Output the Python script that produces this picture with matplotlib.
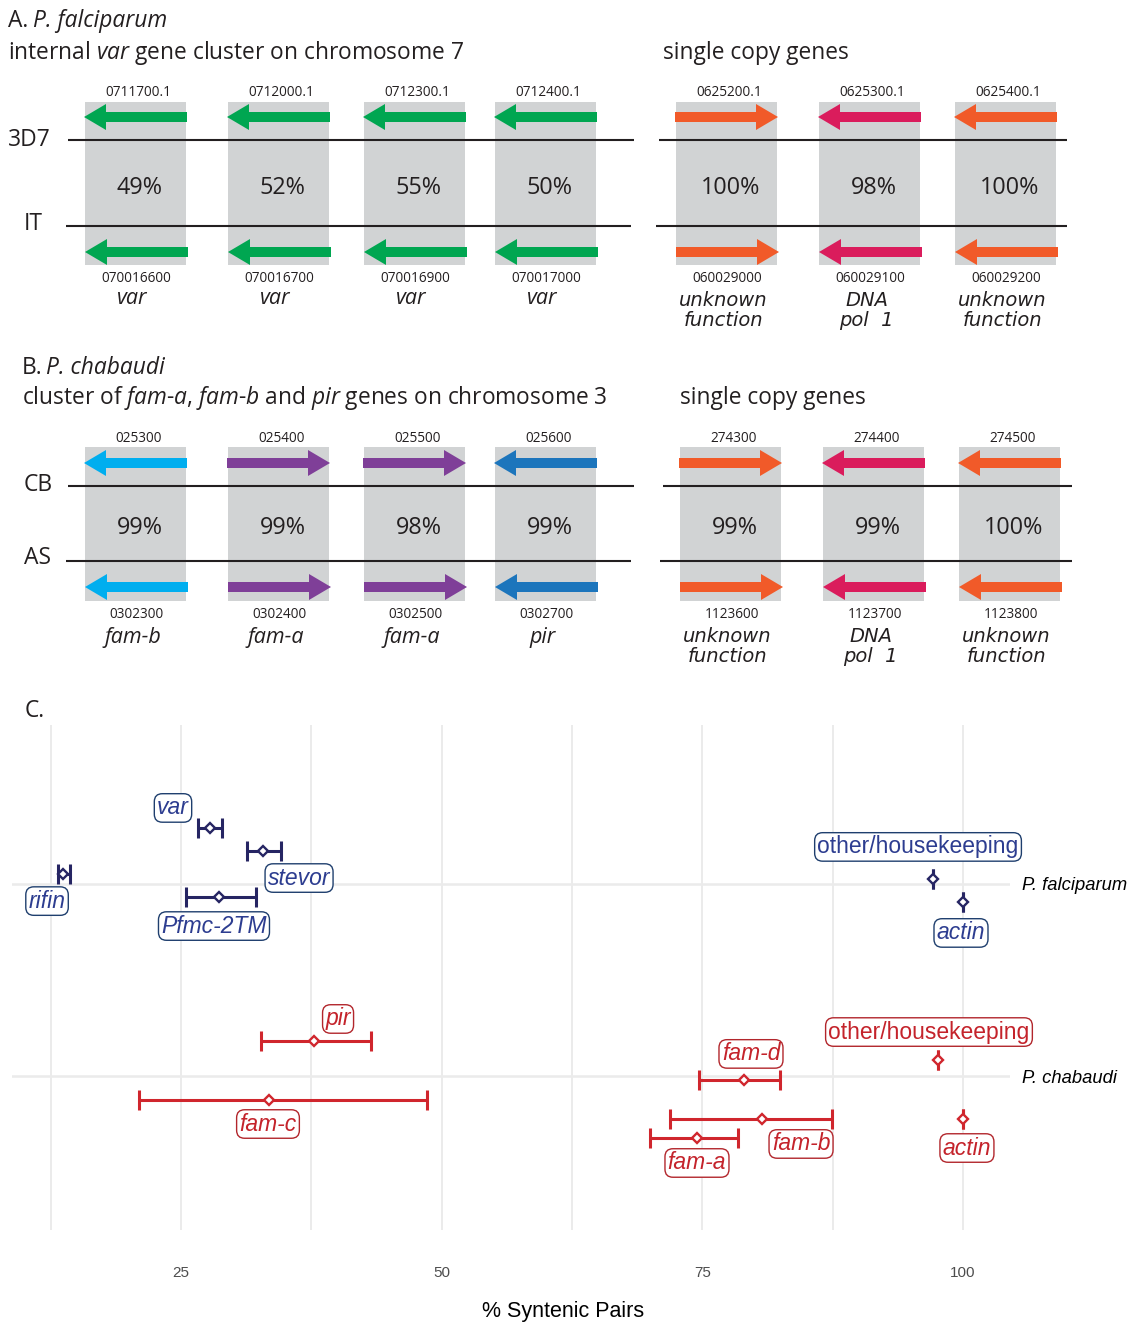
import matplotlib
matplotlib.use("Agg")
import matplotlib.pyplot as plt
from matplotlib.patches import Polygon, Rectangle

plt.rcParams['mathtext.fontset'] = 'custom'
plt.rcParams['mathtext.rm'] = 'Open Sans'
plt.rcParams['mathtext.it'] = 'Open Sans:italic'
plt.rcParams['mathtext.bf'] = 'Open Sans:bold'

# ---------------- data: panel A ----------------
A_var_ids_top = ["0711700.1", "0712000.1", "0712300.1", "0712400.1"]
A_var_ids_bot = ["070016600", "070016700", "070016900", "070017000"]
A_var_pct = [49, 52, 55, 50]
A_var_names = ["var", "var", "var", "var"]
A_var_dir = [-1, -1, -1, -1]
A_var_col = ["green", "green", "green", "green"]

A_sc_ids_top = ["0625200.1", "0625300.1", "0625400.1"]
A_sc_ids_bot = ["060029000", "060029100", "060029200"]
A_sc_pct = [100, 98, 100]
A_sc_names = ["unknown\nfunction", "DNA\npol  1", "unknown\nfunction"]
A_sc_dir = [1, -1, -1]
A_sc_col = ["orange", "crimson", "orange"]

# ---------------- data: panel B ----------------
B_fam_ids_top = ["025300", "025400", "025500", "025600"]
B_fam_ids_bot = ["0302300", "0302400", "0302500", "0302700"]
B_fam_pct = [99, 99, 98, 99]
B_fam_names = ["fam-b", "fam-a", "fam-a", "pir"]
B_fam_dir = [-1, 1, 1, -1]
B_fam_col = ["cyan", "purple", "purple", "blue"]

B_sc_ids_top = ["274300", "274400", "274500"]
B_sc_ids_bot = ["1123600", "1123700", "1123800"]
B_sc_pct = [99, 99, 100]
B_sc_names = ["unknown\nfunction", "DNA\npol  1", "unknown\nfunction"]
B_sc_dir = [1, -1, -1]
B_sc_col = ["orange", "crimson", "orange"]

# ---------------- data: panel C ----------------
C_species = ["P. falciparum", "P. chabaudi"]
C_pf_genes = ["var", "stevor", "rifin", "other/housekeeping", "Pfmc-2TM", "actin"]
C_pf_mean = [27.8, 32.9, 13.7, 97.1, 28.6, 100.0]
C_pf_low = [26.6, 31.3, 13.2, 97.1, 25.5, 100.0]
C_pf_high = [28.9, 34.6, 14.4, 97.1, 32.2, 100.0]
C_pf_dodge = [-0.292, -0.172, -0.052, -0.026, 0.068, 0.094]

C_pc_genes = ["pir", "other/housekeeping", "fam-d", "fam-c", "fam-b", "actin", "fam-a"]
C_pc_mean = [37.75, 97.6, 79.0, 33.4, 80.7, 100.0, 74.5]
C_pc_low = [32.7, 97.6, 74.7, 21.0, 71.9, 100.0, 70.0]
C_pc_high = [43.2, 97.6, 82.4, 48.6, 87.4, 100.0, 78.4]
C_pc_dodge = [-0.182, -0.083, 0.021, 0.125, 0.224, 0.224, 0.323]

C_xticks = [25, 50, 75, 100]

# ---------------- styling / layout ----------------
COL = {"green": "#00a651", "orange": "#f15a29", "crimson": "#da1c5c",
       "cyan": "#00aeef", "purple": "#7f3f98", "blue": "#1c75bc"}
GREY = "#d1d3d4"
INK = "#231f20"
FONT = "Open Sans"
TSIZE = 16.4

W, H = 1129, 1323
fig = plt.figure(figsize=(W / 100, H / 100), dpi=100)
ov = fig.add_axes([0, 0, 1, 1])
ov.set_xlim(0, W)
ov.set_ylim(H, 0)
ov.axis("off")


def arrow(x0, x1, y, d, color):
    shaft, headw, headl = 10, 26, 22
    if d < 0:
        tip, tail = x0, x1
        hb = tip + headl
    else:
        tip, tail = x1, x0
        hb = tip - headl
    pts = [(tail, y - shaft / 2), (hb, y - shaft / 2), (hb, y - headw / 2), (tip, y),
           (hb, y + headw / 2), (hb, y + shaft / 2), (tail, y + shaft / 2)]
    ov.add_patch(Polygon(pts, closed=True, fc=color, ec="none", zorder=3))


def block(lefts, ids_top, ids_bot, pct, names, dirs, cols, box_top, box_bot,
          arr_top, arr_bot, id_top_y, id_bot_y, name_y, name_font, name_size):
    bw = 101
    for i, xl in enumerate(lefts):
        cx = xl + bw / 2
        ov.add_patch(Rectangle((xl, box_top), bw, box_bot - box_top, fc=GREY, ec="none", zorder=1))
        arrow(xl - 1, xl + bw + 1, arr_top, dirs[i], COL[cols[i]])
        arrow(xl, xl + bw + 2, arr_bot, dirs[i], COL[cols[i]])
        ov.text(cx + 3, id_top_y, ids_top[i], ha="center", va="center", fontsize=9.8,
                family=FONT, color=INK, zorder=4)
        ov.text(cx + 1, id_bot_y, ids_bot[i], ha="center", va="center", fontsize=9.8,
                family=FONT, color=INK, zorder=4)
        ov.text(cx + 4, (box_top + box_bot) / 2 + 4, f"{pct[i]}%",
                ha="center", va="center", fontsize=16.8, family=FONT, color=INK, zorder=4)
        for k, line in enumerate(names[i].split("\n")):
            ov.text(cx - 3, name_y + 21 * k, line, ha="center", va="center",
                    fontsize=name_size, family=name_font, style="italic", color=INK, zorder=4)


def hline(x0, x1, y):
    ov.plot([x0, x1], [y, y], color=INK, lw=1.5, zorder=2, solid_capstyle="butt")


# ----- Panel A -----
ov.text(8, 21, "A.", ha="left", va="center", fontsize=TSIZE, family=FONT, color=INK)
ov.text(33, 21, "P. falciparum", ha="left", va="center", fontsize=TSIZE, family=FONT,
        style="italic", color=INK)
ov.text(8, 53, r"internal $\mathit{var}$ gene cluster on chromosome 7", ha="left", va="center",
        fontsize=TSIZE, family=FONT, color=INK)
ov.text(663, 53, "single copy genes", ha="left", va="center", fontsize=TSIZE, family=FONT, color=INK)
hline(68, 634, 140); hline(66, 631, 226)
hline(659, 1067, 140); hline(656, 1067, 226)
ov.text(29, 140, "3D7", ha="center", va="center", fontsize=16.5, family=FONT, color=INK)
ov.text(33, 224, "IT", ha="center", va="center", fontsize=16.5, family=FONT, color=INK)
block([85, 228, 364, 495], A_var_ids_top, A_var_ids_bot, A_var_pct, A_var_names,
      A_var_dir, A_var_col, 102, 265, 117, 252, 93, 279, 298, FONT, 15.5)
block([676, 819, 955], A_sc_ids_top, A_sc_ids_bot, A_sc_pct, A_sc_names,
      A_sc_dir, A_sc_col, 102, 265, 117, 252, 93, 279, 300, "DejaVu Sans", 14)

# ----- Panel B -----
ov.text(22, 368, "B.", ha="left", va="center", fontsize=TSIZE, family=FONT, color=INK)
ov.text(46, 368, "P. chabaudi", ha="left", va="center", fontsize=TSIZE, family=FONT,
        style="italic", color=INK)
ov.text(22, 398, r"cluster of $\mathit{fam}$-$\mathit{a}$, $\mathit{fam}$-$\mathit{b}$ and $\mathit{pir}$ genes on chromosome 3",
        ha="left", va="center", fontsize=TSIZE, family=FONT, color=INK)
ov.text(680, 398, "single copy genes", ha="left", va="center", fontsize=TSIZE, family=FONT, color=INK)
hline(68, 634, 486); hline(66, 631, 561)
hline(663, 1072, 486); hline(660, 1072, 561)
ov.text(38, 485, "CB", ha="center", va="center", fontsize=16.5, family=FONT, color=INK)
ov.text(38, 558, "AS", ha="center", va="center", fontsize=16.5, family=FONT, color=INK)
block([85, 228, 364, 495], B_fam_ids_top, B_fam_ids_bot, B_fam_pct, B_fam_names,
      B_fam_dir, B_fam_col, 447, 601, 463, 587, 439, 614, 638, FONT, 15.5)
block([680, 823, 959], B_sc_ids_top, B_sc_ids_bot, B_sc_pct, B_sc_names,
      B_sc_dir, B_sc_col, 447, 601, 463, 587, 439, 614, 636, "DejaVu Sans", 14)

# ----- Panel C -----
ov.text(25, 711, "C.", ha="left", va="center", fontsize=TSIZE, family=FONT, color=INK)
ov.text(563, 1311, "% Syntenic Pairs", ha="center", va="center", fontsize=15.5,
        family="Liberation Sans", color="black")

PX0, PX1, PY0, PY1 = 12, 1010, 725, 1230
ax = fig.add_axes([PX0 / W, 1 - PY1 / H, (PX1 - PX0) / W, (PY1 - PY0) / H])
ax.set_facecolor("none")
ax.set_xlim(8.79, 104.5)
ax.set_ylim(1.802, -0.828)
for s in ax.spines.values():
    s.set_visible(False)
for xv in [12.5, 25, 37.5, 50, 62.5, 75, 87.5, 100]:
    ax.axvline(xv, color="#ebebeb", lw=1.4, zorder=0)
for yv in [0, 1]:
    ax.axhline(yv, color="#ebebeb", lw=1.8, zorder=0)
ax.set_xticks(C_xticks)
ax.set_xticklabels([str(t) for t in C_xticks], family="Liberation Sans", fontsize=11, color="#4d4d4d")
ax.tick_params(axis="x", length=0, pad=26)
ax.yaxis.tick_right()
ax.set_yticks([0, 1])
ax.set_yticklabels(C_species, family="Liberation Sans", style="italic", fontsize=13.2, color="black")
ax.tick_params(axis="y", length=0, pad=9)

PF_BAR, PF_TXT, PF_EDGE = "#262563", "#2d3d90", "#1f3f6e"
PC_BAR, PC_TXT, PC_EDGE = "#d0262d", "#c4232b", "#b2262c"


def series(genes, mean, low, high, dodge, base, bar):
    ys = [base + d for d in dodge]
    ax.errorbar(mean, ys, xerr=[[m - l for m, l in zip(mean, low)], [h - m for h, m in zip(high, mean)]],
                fmt="none", ecolor=bar, elinewidth=2.2, capsize=7, capthick=2.2, zorder=3)
    ax.plot(mean, ys, ls="none", marker="D", ms=5, mfc="white", mec=bar, mew=1.7, zorder=4)


series(C_pf_genes, C_pf_mean, C_pf_low, C_pf_high, C_pf_dodge, 0, PF_BAR)
series(C_pc_genes, C_pc_mean, C_pc_low, C_pc_high, C_pc_dodge, 1, PC_BAR)

# label placements (x in data units, y in category units)
pf_label_pos = {"var": (24.23, -0.396), "stevor": (36.32, -0.031), "rifin": (12.15, 0.089),
                "Pfmc-2TM": (28.16, 0.219), "other/housekeeping": (95.68, -0.193),
                "actin": (99.8, 0.255)}
pc_label_pos = {"pir": (40.06, 0.703), "fam-c": (33.34, 1.25), "other/housekeeping": (96.73, 0.771),
                "fam-d": (79.66, 0.885), "fam-b": (84.46, 1.354), "fam-a": (74.48, 1.453),
                "actin": (100.37, 1.375)}


def labels(genes, pos, txt, edge):
    for g in genes:
        x, y = pos[g]
        st = "normal" if g.startswith("other") else "italic"
        ax.text(x, y, g, ha="center", va="center", fontsize=16.5, family="Liberation Sans",
                style=st, color=txt, zorder=5,
                bbox=dict(boxstyle="round,pad=0.12,rounding_size=0.35", fc="white", ec=edge, lw=1.0))


labels(C_pf_genes, pf_label_pos, PF_TXT, PF_EDGE)
labels(C_pc_genes, pc_label_pos, PC_TXT, PC_EDGE)

fig.savefig("out.png", dpi=100, facecolor="white")
